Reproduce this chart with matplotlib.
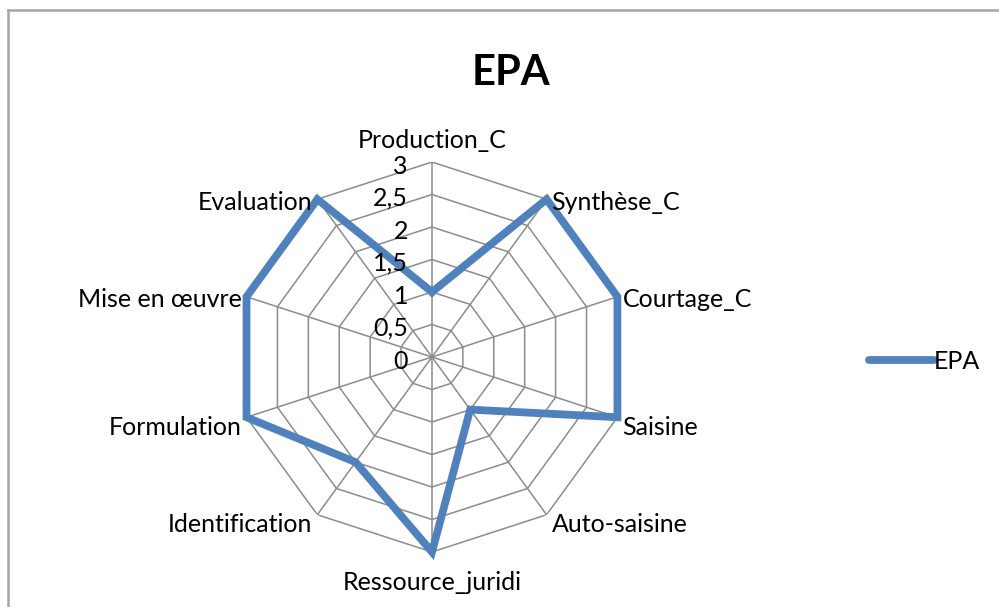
import numpy as np
import matplotlib.pyplot as plt
from matplotlib.transforms import offset_copy
from matplotlib.lines import Line2D

categories = ["Production_C", "Synthèse_C", "Courtage_C", "Saisine", "Auto-saisine",
              "Ressource_juridi", "Identification", "Formulation", "Mise en œuvre", "Evaluation"]
values = [1, 3, 3, 3, 1, 3, 2, 3, 3, 3]
levels = [0, 0.5, 1, 1.5, 2, 2.5, 3]
level_labels = ["0", "0,5", "1", "1,5", "2", "2,5", "3"]

plt.rcParams['font.family'] = ['Lato', 'DejaVu Sans']
fs = 18

fig = plt.figure(figsize=(9.99, 6.07), dpi=100)
ax = fig.add_axes([0.2372, 0.0906, 0.3904, 0.6425], projection='polar')
ax.set_theta_zero_location('N')
ax.set_theta_direction(-1)
ax.set_ylim(0, 3)
ax.grid(False)
ax.spines['polar'].set_visible(False)
ax.set_xticks([])
ax.set_yticks([])
ax.patch.set_alpha(0)

n = len(categories)
angles = np.linspace(0, 2 * np.pi, n, endpoint=False)
closed = np.append(angles, angles[0])

grid_col = '#8c8c8c'
for lv in levels[1:]:
    ax.plot(closed, [lv] * (n + 1), color=grid_col, lw=1.1, zorder=1)
for a in angles:
    ax.plot([a, a], [0, 3], color=grid_col, lw=1.1, zorder=1)

ax.plot(closed, values + values[:1], color='#4F81BD', lw=5.6,
        solid_joinstyle='miter', zorder=3, clip_on=False)

# radial value labels, right-aligned left of the vertical axis
tr = offset_copy(ax.transData, fig=fig, x=-24, y=-4, units='dots')
for lv, lab in zip(levels, level_labels):
    ax.text(0, lv, lab, transform=tr, ha='right', va='center', fontsize=fs, color='#000000')

# category labels
for a, lab in zip(angles, categories):
    s, c = np.sin(a), np.cos(a)
    if abs(s) < 0.1:
        ha = 'center'
    elif s > 0:
        ha = 'left'
    else:
        ha = 'right'
    dx = 5 * np.sign(s) if abs(s) > 0.1 else 0
    if abs(s) < 0.1:
        dy = 22 if c > 0 else -30
    else:
        dy = -3 if c > 0 else -10
    t = offset_copy(ax.transData, fig=fig, x=dx, y=dy, units='dots')
    ax.text(a, 3, lab, transform=t, ha=ha, va='center', fontsize=fs, color='#000000')

fig.text(0.5115, 0.88, "EPA", ha='center', va='center', fontsize=30, fontweight='bold')

handle = Line2D([], [], color='#4F81BD', lw=5.6, solid_capstyle='round')
fig.legend([handle], ["EPA"], loc='center left', bbox_to_anchor=(0.857, 0.405),
           frameon=False, fontsize=fs, handlelength=2.6, handletextpad=0.0, borderpad=0)

fig.add_artist(Line2D([0.008, 0.008], [0, 0.9835], color='#a6a6a6', lw=1.8))
fig.add_artist(Line2D([0.008, 1.0], [0.9835, 0.9835], color='#a6a6a6', lw=1.8))

fig.savefig('out.png', dpi=100)
